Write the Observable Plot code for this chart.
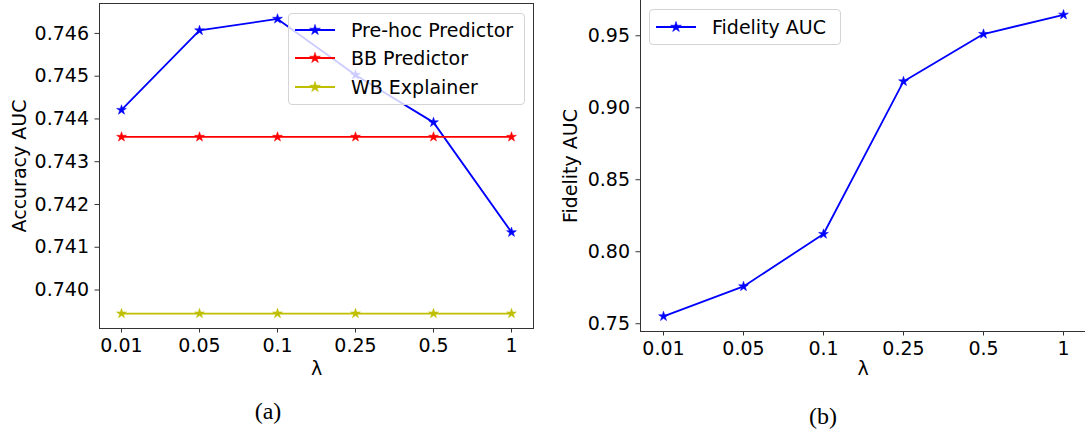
<!DOCTYPE html>
<html>
<head>
<meta charset="utf-8">
<script src="https://cdn.jsdelivr.net/npm/d3@7"></script>
<script src="https://cdn.jsdelivr.net/npm/@observablehq/plot@0.6"></script>
<style>
  html, body { margin: 0; padding: 0; background: #fff; }
  #wrap { position: relative; width: 1085px; height: 434px; overflow: hidden; font-family: "DejaVu Sans", sans-serif; }
  .panel { position: absolute; top: 0; }
  .legend { position: absolute; background: rgba(255,255,255,0.8); border: 1px solid #d4d4d4; border-radius: 4px; box-sizing: border-box; font-size: 19px; color: #000; }
  .row { position: absolute; left: 0; display: flex; align-items: center; white-space: nowrap; }
  .caption { position: absolute; font-family: "Liberation Serif", "DejaVu Serif", serif; font-size: 24px; color: #000; transform: translate(-50%, -50%); }
</style>
</head>
<body>
<div id="wrap"></div>
<script>
// ---- data ----
const lambdas = ["0.01", "0.05", "0.1", "0.25", "0.5", "1"];
const preHoc = [0.74421, 0.74607, 0.74634, 0.74503, 0.74392, 0.74135];
const bbPredictor = [0.74358, 0.74358, 0.74358, 0.74358, 0.74358, 0.74358];
const wbExplainer = [0.73945, 0.73945, 0.73945, 0.73945, 0.73945, 0.73945];
const fidelity = [0.7551, 0.7759, 0.8123, 0.9183, 0.9512, 0.9646];
const accTicks = [0.740, 0.741, 0.742, 0.743, 0.744, 0.745, 0.746];
const fidTicks = [0.75, 0.80, 0.85, 0.90, 0.95];
const seriesNames = ["Pre-hoc Predictor", "BB Predictor", "WB Explainer"];
const seriesColors = ["#0000ff", "#ff0000", "#bfbf00"];

const accRows = [];
[preHoc, bbPredictor, wbExplainer].forEach((arr, si) =>
  arr.forEach((v, i) => accRows.push({lambda: lambdas[i], value: v, series: seriesNames[si]})));
const fidRows = fidelity.map((v, i) => ({lambda: lambdas[i], value: v}));

const wrap = document.getElementById("wrap");
const FS = 19;
const font = "DejaVu Sans";
const R = 3.1;

// ---- left panel ----
const left = Plot.plot({
  width: 540, height: 380,
  marginLeft: 99, marginRight: 7, marginTop: 3, marginBottom: 52,
  style: {fontFamily: font, fontSize: FS + "px", color: "#000", background: "transparent", overflow: "visible"},
  x: {type: "point", domain: lambdas, padding: 0.25, label: null},
  y: {domain: [0.7391, 0.7467], label: null},
  color: {domain: seriesNames, range: seriesColors},
  marks: [
    Plot.axisX({tickSize: 4.5, tickPadding: 5, fontSize: FS, stroke: "#333"}),
    Plot.axisY({ticks: accTicks, tickFormat: d3.format(".3f"), tickSize: 4.5, tickPadding: 6, fontSize: FS, stroke: "#333"}),
    Plot.line(accRows, {x: "lambda", y: "value", z: "series", stroke: "series", strokeWidth: 1.8}),
    Plot.dot(accRows, {x: "lambda", y: "value", symbol: "star", fill: "series", stroke: "series", strokeWidth: 0.5, r: R}),
    Plot.frame({stroke: "#333", strokeWidth: 1}),
    Plot.text(["λ"], {text: d => d, frameAnchor: "bottom", dy: 40, lineAnchor: "middle", fontSize: FS}),
    Plot.text(["Accuracy AUC"], {text: d => d, frameAnchor: "left", dx: -80, rotate: -90, lineAnchor: "middle", textAnchor: "middle", fontSize: FS})
  ]
});
left.classList.add("panel");
left.style.left = "0px";
wrap.appendChild(left);

// ---- right panel ----
const right = Plot.plot({
  width: 545, height: 380,
  marginLeft: 100, marginRight: 0, marginTop: 0, marginBottom: 49,
  style: {fontFamily: font, fontSize: FS + "px", color: "#000", background: "transparent", overflow: "visible"},
  x: {type: "point", domain: lambdas, padding: 0.25, label: null},
  y: {domain: [0.7446, 0.9745], label: null},
  marks: [
    Plot.axisX({tickSize: 4.5, tickPadding: 5, fontSize: FS, stroke: "#333"}),
    Plot.axisY({ticks: fidTicks, tickFormat: d3.format(".2f"), tickSize: 4.5, tickPadding: 6, fontSize: FS, stroke: "#333"}),
    Plot.line(fidRows, {x: "lambda", y: "value", stroke: "#0000ff", strokeWidth: 1.8}),
    Plot.dot(fidRows, {x: "lambda", y: "value", symbol: "star", fill: "#0000ff", stroke: "#0000ff", strokeWidth: 0.5, r: R}),
    Plot.frame({anchor: "left", stroke: "#333", strokeWidth: 1}),
    Plot.frame({anchor: "bottom", stroke: "#333", strokeWidth: 1}),
    Plot.text(["λ"], {text: d => d, frameAnchor: "bottom", dy: 37, lineAnchor: "middle", fontSize: FS}),
    Plot.text(["Fidelity AUC"], {text: d => d, frameAnchor: "left", dx: -70, rotate: -90, lineAnchor: "middle", textAnchor: "middle", fontSize: FS})
  ]
});
right.classList.add("panel");
right.style.left = "540px";
wrap.appendChild(right);

// ---- legends ----
function swatch(color) {
  const w = 40, h = 12;
  const star = d3.symbol(d3.symbolStar, 36)();
  return `<svg width="${w}" height="${h}" style="display:block"><line x1="0" x2="${w}" y1="${h/2}" y2="${h/2}" stroke="${color}" stroke-width="1.8"/><path d="${star}" transform="translate(${w/2},${h/2})" fill="${color}" stroke="${color}" stroke-width="0.5"/></svg>`;
}
function legend(x, y, w, h, items, rowTops) {
  const box = document.createElement("div");
  box.className = "legend";
  Object.assign(box.style, {left: x + "px", top: y + "px", width: w + "px", height: h + "px"});
  items.forEach(([name, color], i) => {
    const row = document.createElement("div");
    row.className = "row";
    row.style.top = rowTops[i] + "px";
    row.style.left = "6px";
    row.innerHTML = swatch(color) + `<span style="margin-left:16px;line-height:24px">${name}</span>`;
    box.appendChild(row);
  });
  wrap.appendChild(box);
}
legend(288, 13, 237, 92, seriesNames.map((n, i) => [n, seriesColors[i]]), [4, 32, 61]);
legend(649, 9, 192, 36, [["Fidelity AUC", "#0000ff"]], [5]);

// ---- captions ----
[["(a)", 268, 411], ["(b)", 823, 416]].forEach(([t, x, y]) => {
  const c = document.createElement("div");
  c.className = "caption";
  c.textContent = t;
  c.style.left = x + "px";
  c.style.top = y + "px";
  wrap.appendChild(c);
});
</script>
</body>
</html>
